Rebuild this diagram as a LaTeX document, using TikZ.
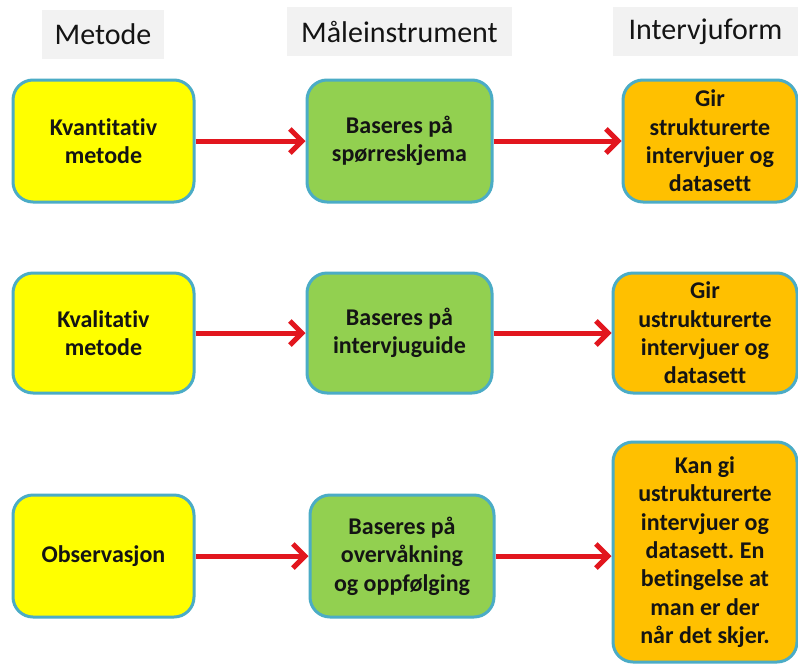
\documentclass[tikz,border=0pt]{standalone}
\usepackage{fontspec}
\setmainfont{Carlito}[Ligatures={NoCommon,TeX}]
\frenchspacing
\usetikzlibrary{arrows.meta}
\definecolor{edgeblue}{RGB}{75,172,198}
\definecolor{boxyellow}{RGB}{255,255,0}
\definecolor{boxgreen}{RGB}{146,208,80}
\definecolor{boxorange}{RGB}{255,192,0}
\definecolor{headgray}{RGB}{242,242,242}
\definecolor{arrowred}{RGB}{226,22,30}
\definecolor{inkdark}{RGB}{20,20,20}
\tikzset{
  stepbox/.style={draw=edgeblue, line width=3pt, rounded corners=20pt,
    align=center, inner sep=0pt, text=inkdark,
    font=\fontsize{24}{28.4}\selectfont\bfseries},
  methodbox/.style={stepbox, fill=boxyellow},
  instrbox/.style={stepbox, fill=boxgreen},
  formbox/.style={stepbox, fill=boxorange},
  headbox/.style={fill=headgray, inner sep=0pt, text=inkdark,
    font=\fontsize{30}{34}\selectfont},
  flow/.style={draw=arrowred, line width=5pt,
    -{Straight Barb[length=12pt,width=24pt,line width=5pt]}},
}
\begin{document}
\begin{tikzpicture}[x=1pt,y=-1pt]
\useasboundingbox[fill=white] (0,0) rectangle (798,670);

% column headers
\node[headbox, minimum width=122pt, minimum height=49pt] (hmet) at (103,34.5) {Metode};
\node[headbox, minimum width=225pt, minimum height=49pt] (hins) at (399.5,31.5) {Måleinstrument};
\node[headbox, minimum width=185pt, minimum height=49pt] (hform) at (705.5,31.5) {Intervjuform};

% row 1
\node[methodbox, minimum width=181pt, minimum height=122pt] (m1) at (103.5,141) {Kvantitativ\\metode};
\node[instrbox, minimum width=185pt, minimum height=122pt] (i1) at (399.5,141) {Baseres på\\spørreskjema};
\node[formbox, minimum width=174pt, minimum height=122pt] (f1) at (710,141) {Gir\\strukturerte\\intervjuer og\\datasett};

% row 2
\node[methodbox, minimum width=181pt, minimum height=120pt] (m2) at (103.5,333) {Kvalitativ\\metode};
\node[instrbox, minimum width=185pt, minimum height=120pt] (i2) at (399.5,333) {Baseres på\\intervjuguide};
\node[formbox, minimum width=184pt, minimum height=120pt] (f2) at (705,333) {Gir\\ustrukturerte\\intervjuer og\\datasett};

% row 3
\node[methodbox, minimum width=181pt, minimum height=122pt] (m3) at (103.5,556) {Observasjon};
\node[instrbox, minimum width=184pt, minimum height=122pt] (i3) at (402,556) {Baseres på\\overvåkning\\og oppfølging};
\node[formbox, minimum width=184pt, minimum height=220pt] (f3) at (705,552) {Kan gi\\ustrukturerte\\intervjuer og\\datasett. En\\betingelse at\\man er der\\når det skjer.};

% connectors
\draw[flow] (m1) -- (i1);
\draw[flow] (i1) -- (f1);
\draw[flow] (m2) -- (i2);
\draw[flow] (i2) -- (f2);
\draw[flow] (m3) -- (i3);
\draw[flow] (i3.east) -- (i3.east -| f3.west);
\end{tikzpicture}
\end{document}
